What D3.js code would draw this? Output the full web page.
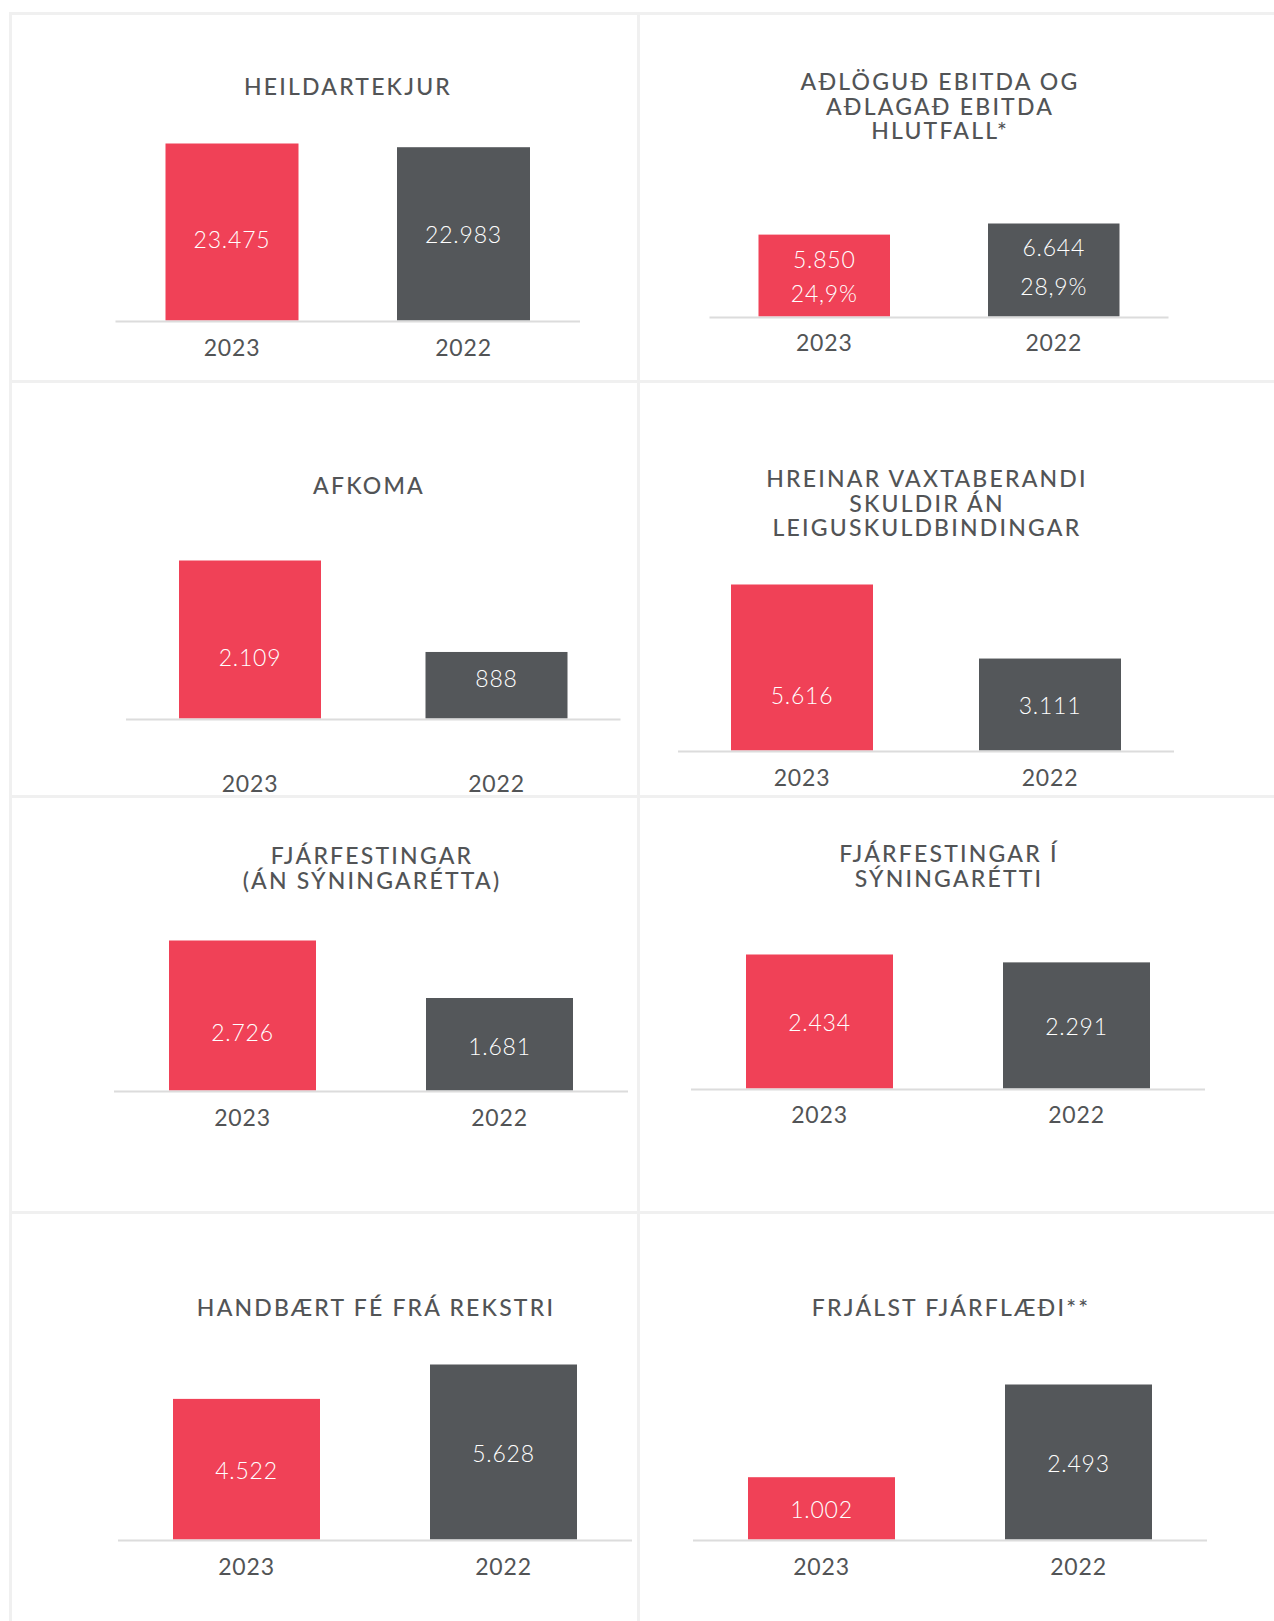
<!DOCTYPE html>
<html>
<head>
<meta charset="utf-8">
<script src="https://cdn.jsdelivr.net/npm/d3@7"></script>
<style>
  body { margin: 0; background: #fff; }
  svg { display: block; }
</style>
</head>
<body>
<svg id="chart"></svg>
<script>
// data
const years = ["2023", "2022"];
const titles = [
  ["HEILDARTEKJUR"],
  ["AÐLÖGUÐ EBITDA OG", "AÐLAGAÐ EBITDA", "HLUTFALL*"],
  ["AFKOMA"],
  ["HREINAR VAXTABERANDI", "SKULDIR ÁN", "LEIGUSKULDBINDINGAR"],
  ["FJÁRFESTINGAR", "(ÁN SÝNINGARÉTTA)"],
  ["FJÁRFESTINGAR Í", "SÝNINGARÉTTI"],
  ["HANDBÆRT FÉ FRÁ REKSTRI"],
  ["FRJÁLST FJÁRFLÆÐI**"]
];
const values2023 = [23475, 5850, 2109, 5616, 2726, 2434, 4522, 1002];
const values2022 = [22983, 6644, 888, 3111, 1681, 2291, 5628, 2493];
const ebitdaRatio = [24.9, 28.9]; // 2023, 2022

// layout of each panel (pixels); labelDy = label shift from bar middle
const layout = [
  { x0: 115.5, x1: 580, base: 320.5, inset: 50, barW: 133, maxH: 177, titleX: 347, titleY: 87, yearY: 348, labelDy: [8, 1] },
  { x0: 709.5, x1: 1168.5, base: 316.5, inset: 49, barW: 131.5, maxH: 93, titleX: 939, titleY: 82, yearY: 343, labelDy: [0, -2] },
  { x0: 126, x1: 620.5, base: 718.5, inset: 53, barW: 142, maxH: 158, titleX: 368, titleY: 486, yearY: 784, labelDy: [18, -7] },
  { x0: 678, x1: 1174, base: 750.5, inset: 53, barW: 142, maxH: 166, titleX: 926, titleY: 479, yearY: 778, labelDy: [28, 1.5] },
  { x0: 114, x1: 628, base: 1090.5, inset: 55, barW: 147, maxH: 150, titleX: 371, titleY: 856, yearY: 1118, labelDy: [17, 2] },
  { x0: 691, x1: 1205, base: 1088.5, inset: 55, barW: 147, maxH: 134, titleX: 948, titleY: 854, yearY: 1115, labelDy: [1, 1] },
  { x0: 118, x1: 632, base: 1539.5, inset: 55, barW: 147, maxH: 175, titleX: 375, titleY: 1308, yearY: 1567, labelDy: [1.5, 1.5] },
  { x0: 693, x1: 1207, base: 1539.5, inset: 55, barW: 147, maxH: 155, titleX: 950, titleY: 1308, yearY: 1567, labelDy: [1, 1.5] }
];

const width = 1274, height = 1621;
const red = "#f04157", grey = "#54575a", textCol = "#525456";
const font = "Lato, 'Noto Sans', sans-serif";
const fmt = d3.formatLocale({ decimal: ",", thousands: ".", grouping: [3], currency: ["", ""] });
const num = fmt.format(",d");
const pct = fmt.format(",.1f");

const svg = d3.select("#chart").attr("width", width).attr("height", height);
svg.append("rect").attr("width", width).attr("height", height).attr("fill", "#fff");

// panel grid lines
const grid = svg.append("g").attr("stroke", "#f0f0f0").attr("stroke-width", 3);
[13.5, 381.5, 796.5, 1212.5].forEach(y => {
  grid.append("line").attr("x1", 10).attr("x2", width).attr("y1", y).attr("y2", y);
});
[10.5, 638.5].forEach(x => {
  grid.append("line").attr("x1", x).attr("x2", x).attr("y1", 12).attr("y2", height);
});

titles.forEach((lines, i) => {
  const L = layout[i];
  const vals = [values2023[i], values2022[i]];
  const g = svg.append("g");

  const r0 = L.x0 + L.inset, r1 = L.x1 - L.inset;
  const x = d3.scaleBand()
    .domain(years)
    .range([r0, r1])
    .paddingInner(1 - L.barW / (r1 - r0 - L.barW))
    .paddingOuter(0);
  const y = d3.scaleLinear()
    .domain([0, d3.max(vals)])
    .range([L.base, L.base - L.maxH]);

  // title
  g.append("text")
    .attr("text-anchor", "middle")
    .attr("fill", textCol)
    .style("font-family", font)
    .style("font-weight", 500)
    .style("font-size", "23px")
    .style("letter-spacing", "2.2px")
    .selectAll("tspan")
    .data(lines)
    .join("tspan")
    .attr("x", L.titleX + 1)
    .attr("y", (d, j) => L.titleY + j * 24.5 + 8.3)
    .text(d => d);

  // bars
  g.selectAll("rect.bar")
    .data(years)
    .join("rect")
    .attr("class", "bar")
    .attr("x", d => x(d))
    .attr("width", x.bandwidth())
    .attr("y", (d, j) => y(vals[j]))
    .attr("height", (d, j) => L.base - y(vals[j]))
    .attr("fill", (d, j) => j === 0 ? red : grey);

  // baseline
  g.append("line")
    .attr("x1", L.x0).attr("x2", L.x1)
    .attr("y1", L.base + 1).attr("y2", L.base + 1)
    .attr("stroke", "#dcdcdc").attr("stroke-width", 2);

  // value labels
  const mid = j => (y(vals[j]) + L.base) / 2 + L.labelDy[j];
  years.forEach((yr, j) => {
    const cx = x(yr) + x.bandwidth() / 2;
    const labels = i === 1 ? [num(vals[j]), pct(ebitdaRatio[j]) + "%"] : [num(vals[j])];
    const offs = i === 1 ? (j === 0 ? [-16, 18] : [-20, 18.5]) : [0];
    labels.forEach((t, k) => {
      g.append("text")
        .attr("x", cx)
        .attr("y", mid(j) + offs[k] + 8.3)
        .attr("text-anchor", "middle")
        .attr("fill", "#fff")
        .style("font-family", font)
        .style("font-weight", 300)
        .style("font-size", "23px")
        .style("letter-spacing", "0.8px")
        .text(t);
    });
  });

  // year labels
  g.selectAll("text.year")
    .data(years)
    .join("text")
    .attr("class", "year")
    .attr("x", d => x(d) + x.bandwidth() / 2)
    .attr("y", L.yearY + 8.3)
    .attr("text-anchor", "middle")
    .attr("fill", textCol)
    .style("font-family", font)
    .style("font-size", "23px")
    .style("letter-spacing", "0.8px")
    .text(d => d);
});
</script>
</body>
</html>
